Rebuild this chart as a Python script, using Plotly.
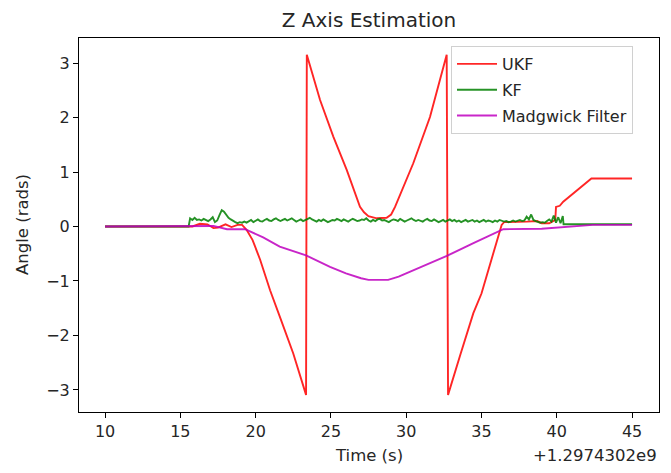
import numpy as np
import plotly.graph_objects as go

# Time offset shared by all samples (seconds since epoch)
T_OFFSET = 1.2974302e9

# UKF yaw estimate (relative time [s], angle [rad])
ukf_t = [10.0, 15.8, 16.3, 16.8, 17.2, 17.5, 18.0, 18.4, 18.8, 19.1, 19.4, 19.8,
         20.3, 20.96, 21.6, 22.5, 23.35, 23.40, 24.28, 25.16, 26.05, 26.93, 27.2,
         27.49, 28.04, 28.7, 29.0, 29.26, 30.47, 31.58, 32.69, 32.78, 33.6, 34.46,
         35.0, 35.68, 36.34, 36.5, 37.0, 38.0, 38.7, 39.0, 39.5, 39.9, 39.95, 40.2,
         40.43, 42.3, 45.0]
ukf_v = [0.0, 0.0, 0.05, 0.04, -0.03, -0.02, 0.04, -0.01, 0.03, 0.03, -0.06, -0.25,
         -0.61, -1.17, -1.65, -2.33, -3.09, 3.15, 2.32, 1.65, 1.04, 0.36, 0.26,
         0.19, 0.15, 0.16, 0.22, 0.36, 1.16, 2.01, 3.15, -3.09, -2.35, -1.59,
         -1.23, -0.61, 0.03, 0.08, 0.08, 0.09, 0.10, 0.06, 0.06, 0.12, 0.36, 0.38,
         0.455, 0.88, 0.88]

# KF yaw estimate: idle segments plus uniformly sampled noisy segment
kf_idle_t = [10.0, 15.55]
kf_idle_v = [0.0, 0.0]
kf_t0 = 15.65
kf_dt = 0.15
kf_v = [
    0.15, 0.12, 0.16, 0.12, 0.13, 0.11, 0.14, 0.12, 0.10, 0.13, 0.17, 0.08,
    0.11, 0.21, 0.30, 0.27, 0.21, 0.16, 0.13, 0.10, 0.08, 0.06, 0.08, 0.07,
    0.09, 0.07, 0.10, 0.12, 0.08, 0.11, 0.13, 0.10, 0.09, 0.12,
    0.14, 0.11, 0.10, 0.13, 0.15, 0.12, 0.10, 0.12, 0.14, 0.11,
    0.13, 0.15, 0.12, 0.09, 0.11, 0.13, 0.10, 0.12, 0.14, 0.16,
    0.13, 0.11, 0.09, 0.12, 0.10, 0.13, 0.11, 0.08, 0.10, 0.12,
    0.11, 0.14, 0.12, 0.10, 0.13, 0.11, 0.09, 0.12, 0.14, 0.12,
    0.10, 0.11, 0.13, 0.12, 0.15, 0.11, 0.09, 0.12, 0.10, 0.13,
    0.14, 0.11, 0.12, 0.10, 0.08, 0.11, 0.13, 0.12, 0.10, 0.14,
    0.12, 0.09, 0.11, 0.13, 0.15, 0.12, 0.10, 0.12, 0.11, 0.09,
    0.12, 0.14, 0.11, 0.10, 0.13, 0.11, 0.08, 0.10, 0.12, 0.09,
    0.11, 0.13, 0.10, 0.12, 0.09, 0.11, 0.08, 0.10, 0.12, 0.09,
    0.10, 0.12, 0.09, 0.11, 0.08, 0.10, 0.12, 0.09, 0.11, 0.10,
    0.08, 0.11, 0.09, 0.12, 0.10, 0.09,
    0.10, 0.08, 0.09, 0.11, 0.09, 0.10, 0.12, 0.10, 0.11, 0.18, 0.13, 0.22,
    0.12, 0.10, 0.09, 0.07, 0.08, 0.07, 0.10, 0.13, 0.09, 0.20, 0.07, 0.17,
    0.06, 0.19,
]
kf_tail_t = [40.45, 45.0]
kf_tail_v = [0.04, 0.04]

# Madgwick filter yaw estimate
mad_t = [10.0, 17.2, 18.1, 19.3, 20.5, 21.6, 23.35, 24.94, 26.0, 27.0, 27.5, 28.8,
         29.5, 30.92, 32.7, 34.5, 36.45, 39.0, 40.0, 42.4, 45.0]
mad_v = [0.0, 0.01, -0.05, -0.05, -0.2, -0.37, -0.53, -0.74, -0.86, -0.95, -0.98,
         -0.98, -0.92, -0.75, -0.54, -0.3, -0.05, -0.04, -0.02, 0.03, 0.03]

x_ticks = [10, 15, 20, 25, 30, 35, 40, 45]
y_ticks = [-3, -2, -1, 0, 1, 2, 3]

kf_grid = kf_t0 + kf_dt * np.arange(len(kf_v))
kf_t_all = kf_idle_t + list(kf_grid) + kf_tail_t
kf_v_all = kf_idle_v + kf_v + kf_tail_v

FONT = "DejaVu Sans"
TXT = "#262626"
fig = go.Figure()
fig.add_trace(go.Scatter(x=ukf_t, y=ukf_v, mode="lines", name="UKF",
                         line=dict(color="#ff0000", width=1.9), opacity=0.85,
                         legendgroup="a"))
fig.add_trace(go.Scatter(x=kf_t_all, y=kf_v_all, mode="lines", name="KF",
                         line=dict(color="#008000", width=1.9), opacity=0.85,
                         legendgroup="b"))
fig.add_trace(go.Scatter(x=mad_t, y=mad_v, mode="lines", name="Madgwick Filter",
                         line=dict(color="#bf00bf", width=1.9), opacity=0.85,
                         legendgroup="c"))

axis_common = dict(showgrid=False, zeroline=False, showline=True, mirror=True,
                   linecolor="black", linewidth=1, ticks="outside", ticklen=5,
                   tickcolor="black", tickfont=dict(family=FONT, size=16, color=TXT))
fig.update_xaxes(range=[8.27, 46.79], tickvals=x_ticks, **axis_common)
fig.update_yaxes(range=[-3.404, 3.459], tickvals=y_ticks, **axis_common)

fig.update_layout(
    width=671, height=473,
    margin=dict(l=79, r=12, t=38, b=61),
    paper_bgcolor="white", plot_bgcolor="white",
    font=dict(family=FONT, color=TXT),
    title=dict(text="Z Axis Estimation", x=0.5, xref="paper", y=1 - 20 / 473,
               yanchor="middle", xanchor="center", font=dict(size=20, family=FONT)),
    legend=dict(x=(451 - 79) / 580, y=(412 - 46) / 374, xanchor="left", yanchor="top",
                bgcolor="rgba(255,255,255,0.8)", bordercolor="#d0d0d0", borderwidth=1,
                font=dict(size=16, family=FONT, color=TXT),
                itemwidth=40, tracegroupgap=2),
    annotations=[
        dict(text="Time (s)", xref="paper", yref="paper", x=0.5, y=-43 / 374,
             xanchor="center", yanchor="middle", showarrow=False,
             font=dict(size=16.5, family=FONT)),
        dict(text="Angle (rads)", xref="paper", yref="paper", x=-57 / 580, y=0.5,
             xanchor="center", yanchor="middle", textangle=-90, showarrow=False,
             font=dict(size=16.5, family=FONT)),
        dict(text="+%.7fe9" % (T_OFFSET / 1e9), xref="paper", yref="paper", x=1.0,
             y=-43 / 374, xanchor="right", yanchor="middle", showarrow=False,
             font=dict(size=16.5, family=FONT)),
    ],
)

fig.write_html("out.html")
